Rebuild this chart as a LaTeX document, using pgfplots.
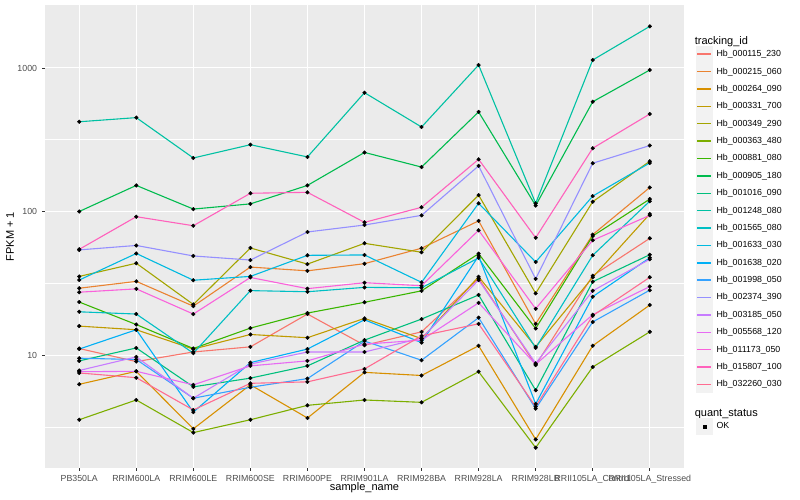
\documentclass[border=0pt]{standalone}
\usepackage{fontspec}
\setmainfont{Liberation Sans}
\usepackage{pgfplots}
\usepackage{pgfplotstable}
\pgfplotsset{compat=1.18}

% ggplot2 hue palette, 20 levels
\definecolor{c1}{HTML}{F8766D}
\definecolor{c2}{HTML}{EA8331}
\definecolor{c3}{HTML}{D89000}
\definecolor{c4}{HTML}{C09B00}
\definecolor{c5}{HTML}{A3A500}
\definecolor{c6}{HTML}{7CAE00}
\definecolor{c7}{HTML}{39B600}
\definecolor{c8}{HTML}{00BB4E}
\definecolor{c9}{HTML}{00BF7D}
\definecolor{c10}{HTML}{00C1A3}
\definecolor{c11}{HTML}{00BFC4}
\definecolor{c12}{HTML}{00BAE0}
\definecolor{c13}{HTML}{00B0F6}
\definecolor{c14}{HTML}{35A2FF}
\definecolor{c15}{HTML}{9590FF}
\definecolor{c16}{HTML}{C77CFF}
\definecolor{c17}{HTML}{E76BF3}
\definecolor{c18}{HTML}{FA62DB}
\definecolor{c19}{HTML}{FF62BC}
\definecolor{c20}{HTML}{FF6C91}
\definecolor{panelbg}{HTML}{EBEBEB}
\definecolor{keybg}{HTML}{F2F2F2}
\definecolor{tickgrey}{HTML}{333333}
\definecolor{labelgrey}{HTML}{4D4D4D}

% FPKM + 1 per sample (rows) and tracking id (columns)
\pgfplotstableread{
x  s1   s2   s3   s4   s5   s6   s7   s8  s9   s10  s11  s12  s13  s14  s15  s16  s17  s18  s19  s20
0  11.1 29.2 6.25 15.9 35.3 3.54 23.4 100 9.1  422  20   33.3 11.0 9.5  54   7.8  7.65 27.4 54.5 7.5
1  9.0  32.6 7.7  15.0 43.6 4.86 16.3 152 11.2 451  19.3 51   15.0 9.3  58   9.7  7.7  28.9 92   6.95
2  10.5 21.9 3.06 11.0 22.5 2.88 11.1 104 6.0  236  10.3 33.2 4.0  5.0  49   5.0  6.2  19.3 79.6 4.14
3  11.4 41   6.2  13.9 55.7 3.54 15.4 113 6.9  292  28.1 35.3 8.85 5.96 45.9 8.65 8.4  34.7 134  6.35
4  19.3 38.6 3.64 13.2 43   4.46 19.6 152 8.4  240  27.6 49.5 11.0 6.85 72   10.5 9.1  29   136  6.5
5  11.7 43.3 7.57 18.0 60   4.86 23.3 258 12.7 673  29.6 49.8 17.6 12.5 80.5 10.5 11.9 31.9 84   8.0
6  14.5 55.5 7.2  13.0 52   4.68 28.0 204 17.8 388  29.4 32.1 12.2 9.2  94   13.1 12.7 30.4 107  13.6
7  34.2 86   11.6 35.1 130  7.65 50.8 494 26.2 1049 47.5 114  49   18.2 208  33.3 23.1 74   231  16.5
8  8.5  16.5 2.58 11.4 26.9 2.26 15.3 110 5.68 114  11.2 44.5 4.56 4.23 33.9 8.75 8.6  21   65.6 4.37
9  35.7 69   11.6 34.8 117  8.25 67.5 582 32.4 1137 49.5 128  25.5 17   217  28   19.1 63   276  18.8
10 65   147  22.3 96   224  14.5 122  968 50   1950 118  218  47.6 28.3 288  46.5 30   94   478  34.8
}\fpkm

\pgfplotsset{
  keyline/.style={legend image code/.code={
      \fill[keybg] (0.5pt,-8.14pt) rectangle (16.78pt,8.14pt);
      \draw[##1, line width=1.5pt] (1.7pt,0pt) -- (15.6pt,0pt);}},
  series/.style={color=#1, line width=1.1pt, mark=none, keyline},
}

\begin{document}
\begin{tikzpicture}
\useasboundingbox (0pt,0pt) rectangle (800pt,500pt);
\begin{axis}[
    at={(45pt,32pt)}, anchor=south west,
    scale only axis, width=639pt, height=463pt,
    xmin=-0.6, xmax=10.6,
    ymode=log, ymin=1.632, ymax=2748,
    xtick={0,...,10},
    xticklabels={PB350LA,RRIM600LA,RRIM600LE,RRIM600SE,RRIM600PE,RRIM901LA,
        RRIM928BA,RRIM928LA,RRIM928LB,RRII105LA\_Control,RRII105LA\_Stressed},
    ytick={10,100,1000}, yticklabels={10,100,1000},
    minor ytick={3.1623,31.623,316.23},
    grid=both,
    major grid style={white, line width=1pt},
    minor grid style={white, line width=0.5pt},
    axis background/.style={fill=panelbg},
    axis line style={draw=none},
    tick align=outside, tick pos=left,
    major tick length=2.75pt, minor tick length=0pt,
    tick style={color=tickgrey, line width=0.8pt},
    tick label style={font=\fontsize{8.8}{10}\selectfont, color=labelgrey},
    xticklabel style={anchor=north, inner sep=0pt, yshift=-4.5pt},
    yticklabel style={anchor=east, inner sep=0pt, xshift=-5pt},
    xlabel={sample\_name}, ylabel={FPKM + 1},
    label style={font=\fontsize{11}{13}\selectfont},
    xlabel style={at={(axis description cs:0.5,-0.0432)}, anchor=center},
    ylabel style={at={(axis description cs:-0.0548,0.5)}, anchor=center},
    legend cell align=left,
    legend style={at={(1.0183,0.943)}, anchor=north west,
        draw=none, fill=none, inner sep=0pt, outer sep=0pt,
        row sep=0pt, column sep=3.5pt,
        nodes={inner sep=0pt, font=\fontsize{8.8}{10}\selectfont, anchor=west}},
]
\addlegendimage{empty legend}
\addlegendentry{\hspace{-21.8pt}\rule[-4.64pt]{0pt}{17.28pt}\fontsize{11}{13}\selectfont tracking\_id}

\addplot[series=c1] table[x=x, y=s1] {\fpkm}; \addlegendentry{Hb\_000115\_230}
\addplot[series=c2] table[x=x, y=s2] {\fpkm}; \addlegendentry{Hb\_000215\_060}
\addplot[series=c3] table[x=x, y=s3] {\fpkm}; \addlegendentry{Hb\_000264\_090}
\addplot[series=c4] table[x=x, y=s4] {\fpkm}; \addlegendentry{Hb\_000331\_700}
\addplot[series=c5] table[x=x, y=s5] {\fpkm}; \addlegendentry{Hb\_000349\_290}
\addplot[series=c6] table[x=x, y=s6] {\fpkm}; \addlegendentry{Hb\_000363\_480}
\addplot[series=c7] table[x=x, y=s7] {\fpkm}; \addlegendentry{Hb\_000881\_080}
\addplot[series=c8] table[x=x, y=s8] {\fpkm}; \addlegendentry{Hb\_000905\_180}
\addplot[series=c9] table[x=x, y=s9] {\fpkm}; \addlegendentry{Hb\_001016\_090}
\addplot[series=c10] table[x=x, y=s10] {\fpkm}; \addlegendentry{Hb\_001248\_080}
\addplot[series=c11] table[x=x, y=s11] {\fpkm}; \addlegendentry{Hb\_001565\_080}
\addplot[series=c12] table[x=x, y=s12] {\fpkm}; \addlegendentry{Hb\_001633\_030}
\addplot[series=c13] table[x=x, y=s13] {\fpkm}; \addlegendentry{Hb\_001638\_020}
\addplot[series=c14] table[x=x, y=s14] {\fpkm}; \addlegendentry{Hb\_001998\_050}
\addplot[series=c15] table[x=x, y=s15] {\fpkm}; \addlegendentry{Hb\_002374\_390}
\addplot[series=c16] table[x=x, y=s16] {\fpkm}; \addlegendentry{Hb\_003185\_050}
\addplot[series=c17] table[x=x, y=s17] {\fpkm}; \addlegendentry{Hb\_005568\_120}
\addplot[series=c18] table[x=x, y=s18] {\fpkm}; \addlegendentry{Hb\_011173\_050}
\addplot[series=c19] table[x=x, y=s19] {\fpkm}; \addlegendentry{Hb\_015807\_100}
\addplot[series=c20] table[x=x, y=s20] {\fpkm}; \addlegendentry{Hb\_032260\_030}

% points go on top of every line, as in ggplot
\pgfplotsinvokeforeach{1,...,20}{
  \addplot[only marks, mark=*, mark size=1.85pt, black, forget plot] table[x=x, y=s#1] {\fpkm};
}

\addlegendimage{empty legend}
\addlegendentry{\rule{0pt}{9.3pt}}
\addlegendimage{empty legend}
\addlegendentry{\hspace{-21.8pt}\rule[-4.64pt]{0pt}{17.28pt}\fontsize{11}{13}\selectfont quant\_status}
\addlegendimage{legend image code/.code={
    \fill[keybg] (0.5pt,-8.14pt) rectangle (16.78pt,8.14pt);
    \fill[black] (7.3pt,-1.34pt) rectangle (9.98pt,1.34pt);}}
\addlegendentry{OK}
\end{axis}
\end{tikzpicture}
\end{document}
